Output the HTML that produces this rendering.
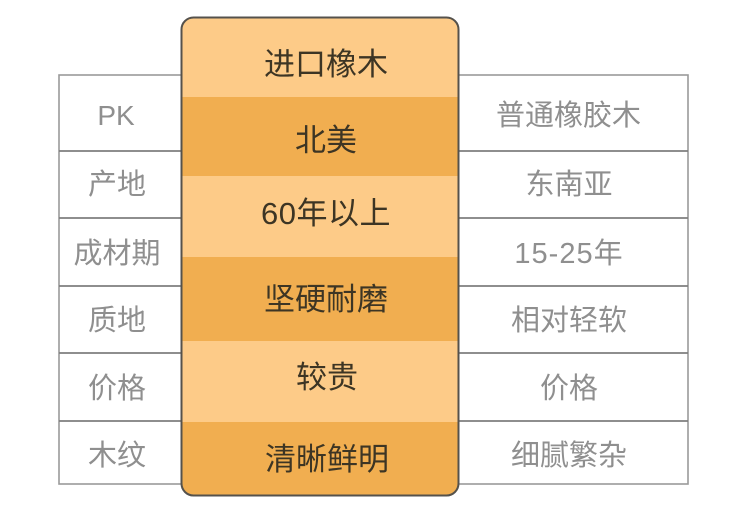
<!DOCTYPE html>
<html><head><meta charset="utf-8"><style>
html,body{margin:0;padding:0;background:#fff;width:750px;height:524px;overflow:hidden}
svg{display:block}
text{font-family:"Liberation Sans","Noto Sans CJK SC",sans-serif;text-anchor:middle}
.g{font-size:29px;fill:#8f8f8f}
.d{font-size:31px;fill:#3d3524}
</style></head><body>
<svg width="750" height="524" viewBox="0 0 750 524" xmlns="http://www.w3.org/2000/svg">
<rect width="750" height="524" fill="#fff"/>
<rect x="59" y="75" width="629" height="409" fill="none" stroke="#9a9a9a" stroke-width="1.6"/>
<path d="M59 151H688M59 218H688M59 286H688M59 353H688M59 421H688" stroke="#7f7f7f" stroke-width="1.8" fill="none"/>
<defs><clipPath id="c"><rect x="182" y="18" width="276" height="477" rx="11"/></clipPath></defs>
<g clip-path="url(#c)">
<rect x="180" y="16" width="280" height="81" fill="#fdcb88"/>
<rect x="180" y="97" width="280" height="79" fill="#f1ae50"/>
<rect x="180" y="176" width="280" height="81" fill="#fdcb88"/>
<rect x="180" y="257" width="280" height="84" fill="#f1ae50"/>
<rect x="180" y="341" width="280" height="81" fill="#fdcb88"/>
<rect x="180" y="422" width="280" height="75" fill="#f1ae50"/>
</g>
<rect x="181.5" y="17.5" width="277" height="478" rx="12" fill="none" stroke="#55524c" stroke-width="2"/>
<text class="g" x="116" y="125" style="font-size:28px">PK</text>
<text class="g" x="117" y="194">产地</text>
<text class="g" x="117" y="263">成材期</text>
<text class="g" x="117" y="330">质地</text>
<text class="g" x="117" y="398">价格</text>
<text class="g" x="117" y="465">木纹</text>
<text class="g" x="568.5" y="125">普通橡胶木</text>
<text class="g" x="569" y="194">东南亚</text>
<text class="g" x="569" y="263" style="letter-spacing:1px">15-25年</text>
<text class="g" x="569" y="330">相对轻软</text>
<text class="g" x="569" y="398">价格</text>
<text class="g" x="569" y="465">细腻繁杂</text>
<text class="d" x="326" y="75">进口橡木</text>
<text class="d" x="326" y="151">北美</text>
<text class="d" x="326" y="224" style="letter-spacing:.5px">60年以上</text>
<text class="d" x="326" y="310">坚硬耐磨</text>
<text class="d" x="327" y="388">较贵</text>
<text class="d" x="327" y="470">清晰鲜明</text>
</svg>
</body></html>
